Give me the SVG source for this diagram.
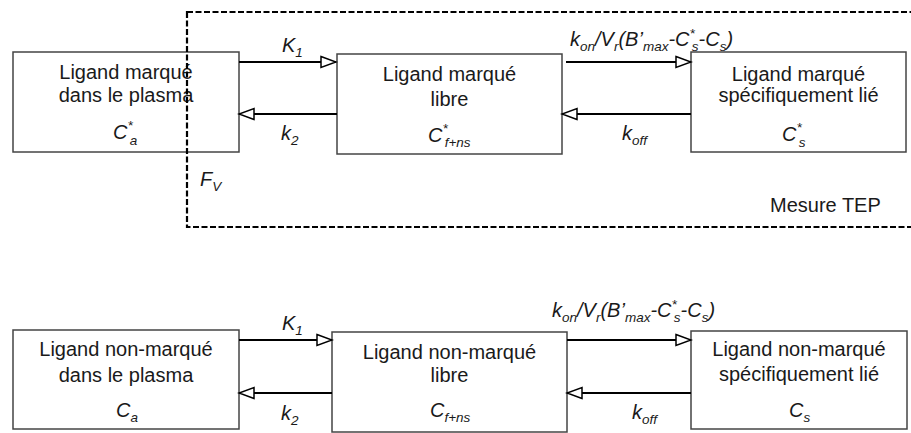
<svg xmlns="http://www.w3.org/2000/svg" width="911" height="433" viewBox="0 0 911 433">
<style>
.box{fill:#fff;stroke:#444;stroke-width:1.5}
.t{font-family:"Liberation Sans",Arial,sans-serif;font-size:20px;fill:#1a1a1a;text-anchor:middle}
.m{font-family:"Liberation Sans",Arial,sans-serif;font-size:20px;font-style:italic;fill:#1a1a1a}
.s{font-size:13.5px}
.c{fill:none;stroke:#000;stroke-width:2}
.dash{fill:none;stroke:#000;stroke-width:2.2;stroke-dasharray:6 2.5}
</style>
<defs>
<marker id="ah" markerUnits="userSpaceOnUse" markerWidth="18" markerHeight="14" refX="16" refY="7" orient="auto">
<path d="M1,1.5 L16,7 L1,12.5 Z" fill="#fff" stroke="#000" stroke-width="1.5"/>
</marker>
</defs>

<g id="nA">
<rect class="box" x="13" y="52" width="226" height="100"/>
<text class="t" x="126" y="79">Ligand marqué</text>
<text class="t" x="126" y="102">dans le plasma</text>
<text class="m" x="113" y="139">C<tspan class="s" dy="-9">*</tspan><tspan class="s" dx="-3" dy="15">a</tspan></text>
</g>
<g id="nB">
<rect class="box" x="337" y="54" width="225" height="100"/>
<text class="t" x="449.5" y="81">Ligand marqué</text>
<text class="t" x="449.5" y="106">libre</text>
<text class="m" x="428" y="142">C<tspan class="s" dy="-9">*</tspan><tspan class="s" dx="-3" dy="14">f+ns</tspan></text>
</g>
<g id="nC">
<rect class="box" x="691" y="52" width="215" height="100"/>
<text class="t" x="798.5" y="81">Ligand marqué</text>
<text class="t" x="798.5" y="102">spécifiquement lié</text>
<text class="m" x="782" y="141">C<tspan class="s" dy="-9">*</tspan><tspan class="s" dx="-3" dy="15">s</tspan></text>
</g>
<g id="nA2">
<rect class="box" x="13" y="330" width="226" height="99"/>
<text class="t" x="126" y="356">Ligand non-marqué</text>
<text class="t" x="126" y="382">dans le plasma</text>
<text class="m" x="116" y="417">C<tspan class="s" dy="5">a</tspan></text>
</g>
<g id="nB2">
<rect class="box" x="332" y="332" width="235" height="100"/>
<text class="t" x="449.5" y="359">Ligand non-marqué</text>
<text class="t" x="449.5" y="382">libre</text>
<text class="m" x="430" y="417">C<tspan class="s" dy="5">f+ns</tspan></text>
</g>
<g id="nC2">
<rect class="box" x="691" y="331" width="216" height="98"/>
<text class="t" x="799" y="356">Ligand non-marqué</text>
<text class="t" x="799" y="381">spécifiquement lié</text>
<text class="m" x="789" y="417">C<tspan class="s" dy="5">s</tspan></text>
</g>

<g id="connectors">
<line class="c" x1="239" y1="62" x2="336" y2="62" marker-end="url(#ah)"/>
<line class="c" x1="337" y1="114" x2="239" y2="114" marker-end="url(#ah)"/>
<line class="c" x1="566" y1="62" x2="691" y2="62" marker-end="url(#ah)"/>
<line class="c" x1="691" y1="114" x2="562" y2="114" marker-end="url(#ah)"/>
<line class="c" x1="239" y1="340" x2="332" y2="340" marker-end="url(#ah)"/>
<line class="c" x1="332" y1="393" x2="239" y2="393" marker-end="url(#ah)"/>
<line class="c" x1="567" y1="340" x2="691" y2="340" marker-end="url(#ah)"/>
<line class="c" x1="691" y1="393" x2="567" y2="393" marker-end="url(#ah)"/>
</g>

<g id="labels">
<text class="m" x="282" y="52">K<tspan class="s" dy="5">1</tspan></text>
<text class="m" x="281" y="140">k<tspan class="s" dy="5">2</tspan></text>
<text class="m" x="570" y="46">k<tspan class="s" dy="5">on</tspan><tspan dy="-5">/V</tspan><tspan class="s" dy="5">r</tspan><tspan dy="-5">(B’</tspan><tspan class="s" dy="5">max</tspan><tspan dy="-5">-C</tspan><tspan class="s" dy="-8">*</tspan><tspan class="s" dx="-3" dy="13">s</tspan><tspan dy="-5">-C</tspan><tspan class="s" dy="5">s</tspan><tspan dy="-5">)</tspan></text>
<text class="m" x="622" y="140">k<tspan class="s" dy="5">off</tspan></text>
<text class="m" x="200" y="186">F<tspan class="s" dy="5">V</tspan></text>
<text class="m" x="282" y="330">K<tspan class="s" dy="5">1</tspan></text>
<text class="m" x="281" y="420">k<tspan class="s" dy="5">2</tspan></text>
<text class="m" x="552" y="317">k<tspan class="s" dy="5">on</tspan><tspan dy="-5">/V</tspan><tspan class="s" dy="5">r</tspan><tspan dy="-5">(B’</tspan><tspan class="s" dy="5">max</tspan><tspan dy="-5">-C</tspan><tspan class="s" dy="-8">*</tspan><tspan class="s" dx="-3" dy="13">s</tspan><tspan dy="-5">-C</tspan><tspan class="s" dy="5">s</tspan><tspan dy="-5">)</tspan></text>
<text class="m" x="632" y="419">k<tspan class="s" dy="5">off</tspan></text>
<text x="770" y="212" font-family="Liberation Sans, Arial, sans-serif" font-size="20" fill="#1a1a1a">Mesure TEP</text>
</g>

<rect id="tep" class="dash" x="187" y="12" width="740" height="215"/>
</svg>
